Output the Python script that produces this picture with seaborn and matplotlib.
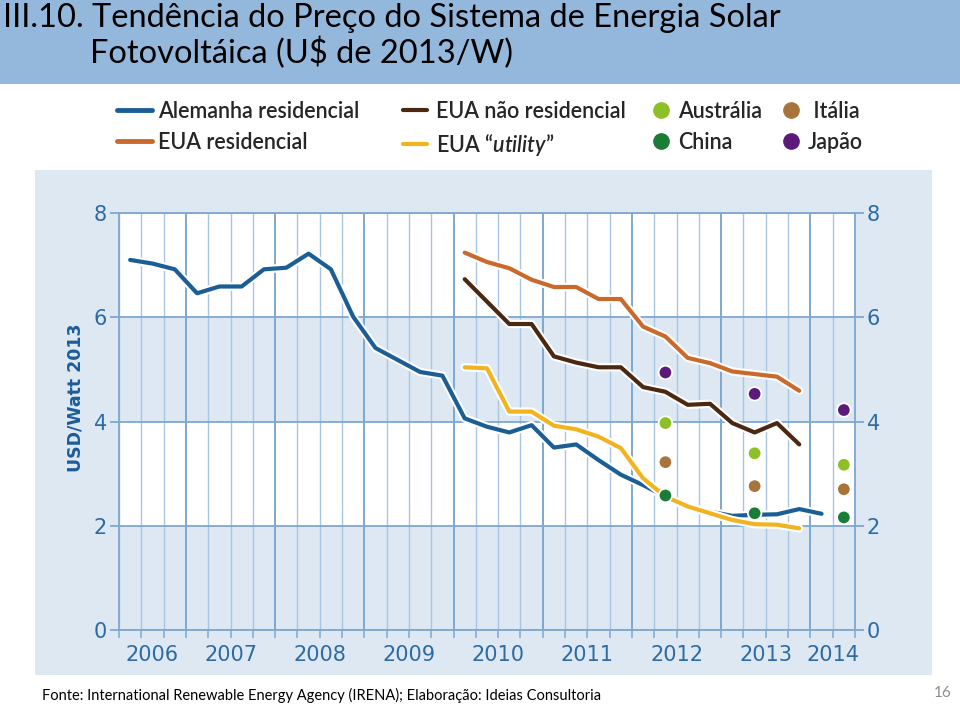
import numpy as np
import pandas as pd
import matplotlib
matplotlib.use("Agg")
import matplotlib.pyplot as plt
import seaborn as sns
import matplotlib.patheffects as pe
from matplotlib.lines import Line2D
from matplotlib.patches import Rectangle
from matplotlib.transforms import blended_transform_factory

# ---------------- data ----------------
quarters_de = pd.period_range("2006Q2", "2014Q1", freq="Q")
alemanha_residencial = [7.10, 7.03, 6.92, 6.46, 6.59, 6.59, 6.92, 6.95,
                        7.22, 6.92, 6.01, 5.41, 5.18, 4.95, 4.88, 4.06,
                        3.90, 3.79, 3.93, 3.50, 3.56, 3.26, 2.98, 2.78,
                        2.56, 2.35, 2.27, 2.19, 2.21, 2.22, 2.32, 2.23]

quarters_us = pd.period_range("2010Q1", "2013Q4", freq="Q")
eua_residencial = [7.24, 7.06, 6.94, 6.72, 6.58, 6.58, 6.35, 6.35,
                   5.82, 5.63, 5.22, 5.12, 4.96, 4.91, 4.86, 4.59]
eua_nao_residencial = [6.73, 6.30, 5.87, 5.87, 5.25, 5.13, 5.04, 5.04,
                       4.66, 4.57, 4.32, 4.34, 3.97, 3.79, 3.97, 3.56]
eua_utility = [5.04, 5.02, 4.19, 4.19, 3.92, 3.85, 3.71, 3.49,
               2.91, 2.56, 2.37, 2.24, 2.11, 2.03, 2.02, 1.95]

quarters_pts = pd.PeriodIndex(["2012Q2", "2013Q2", "2014Q2"], freq="Q")
australia = [3.97, 3.39, 3.17]
italia = [3.22, 2.76, 2.70]
china = [2.58, 2.24, 2.16]
japao = [4.94, 4.53, 4.22]

years = [2006, 2007, 2008, 2009, 2010, 2011, 2012, 2013, 2014]
y_ticks = [0, 2, 4, 6, 8]

line_names = ["Alemanha residencial", "EUA residencial",
              "EUA não residencial", "EUA utility"]
pt_names = ["Austrália", "China", "Itália", "Japão"]

colors = {
    "Alemanha residencial": "#1b5e96",
    "EUA residencial": "#c96a2c",
    "EUA não residencial": "#4b2812",
    "EUA utility": "#f2b320",
    "Austrália": "#8dbf27",
    "Itália": "#a9733c",
    "China": "#1a7d35",
    "Japão": "#5b1a7a",
}


def qx(periods):
    return [p.year + (p.quarter - 1) / 4 + 0.125 for p in periods]


df_lines = pd.concat([
    pd.DataFrame({"x": qx(quarters_de), "v": alemanha_residencial, "s": line_names[0]}),
    pd.DataFrame({"x": qx(quarters_us), "v": eua_residencial, "s": line_names[1]}),
    pd.DataFrame({"x": qx(quarters_us), "v": eua_nao_residencial, "s": line_names[2]}),
    pd.DataFrame({"x": qx(quarters_us), "v": eua_utility, "s": line_names[3]}),
], ignore_index=True)

df_pts = pd.concat([
    pd.DataFrame({"x": qx(quarters_pts), "v": japao, "s": "Japão"}),
    pd.DataFrame({"x": qx(quarters_pts), "v": australia, "s": "Austrália"}),
    pd.DataFrame({"x": qx(quarters_pts), "v": italia, "s": "Itália"}),
    pd.DataFrame({"x": qx(quarters_pts), "v": china, "s": "China"}),
], ignore_index=True)

# ---------------- style ----------------
sns.set_theme(style="white")
plt.rcParams["font.family"] = ["DejaVu Sans"]
plt.rcParams["mathtext.fontset"] = "custom"
plt.rcParams["mathtext.it"] = "Lato:italic:semibold"
plt.rcParams["mathtext.rm"] = "Lato:semibold"
CAL = ["Lato", "DejaVu Sans"]

W, H = 960, 707
fig = plt.figure(figsize=(W / 100, H / 100), dpi=100)
fig.patch.set_facecolor("white")

# title band & chart panel
fig.patches.append(Rectangle((0, 1 - 84 / H), 1, 84 / H, transform=fig.transFigure,
                             facecolor="#94b7dc", edgecolor="none", zorder=-1))
fig.patches.append(Rectangle((35 / W, 1 - 675 / H), (932 - 35) / W, (675 - 170) / H,
                             transform=fig.transFigure, facecolor="#dde8f3",
                             edgecolor="none", zorder=-1))

fig.text(3 / W, 1 - 27 / H, "III.10. Tendência do Preço do Sistema de Energia Solar",
         family=CAL, size=23.5, color="black", ha="left", va="baseline")
fig.text(90 / W, 1 - 63 / H, "Fotovoltáica (U$ de 2013/W)",
         family=CAL, size=23.5, color="black", ha="left", va="baseline")

ax = fig.add_axes([119 / W, 1 - 630 / H, (855 - 119) / W, (630 - 213) / H])
ax.set_zorder(2)
ax.set_facecolor("#dde8f3")
ax.axhspan(6, 8, color="white", zorder=0, lw=0)
ax.axhspan(2, 4, color="white", zorder=0, lw=0)

outline = [pe.withStroke(linewidth=6.0, foreground="white")]
sns.lineplot(data=df_lines, x="x", y="v", hue="s", hue_order=line_names,
             palette=colors, linewidth=3.0, legend=False, ax=ax,
             path_effects=outline, zorder=3)
sns.scatterplot(data=df_pts, x="x", y="v", hue="s", palette=colors, s=95,
                edgecolor="white", linewidth=1.3, legend=False, ax=ax, zorder=4)

gc = "#7ea8cf"
gc_minor = "#a8c5e2"
ax.set_xlim(2006.25, 2014.5)
ax.set_ylim(0, 8)
ax.set_yticks(y_ticks)
ax.set_yticklabels([str(t) for t in y_ticks])
ax.set_xticks(years[1:])
ax.set_xticks(np.arange(2006.25, 2014.51, 0.25), minor=True)
ax.set_xticklabels([])
ax.set_xlabel("")
ax.set_ylabel("")
ax.set_axisbelow(True)
ax.grid(axis="y", color=gc, lw=1.3)
ax.grid(axis="x", which="major", color=gc, lw=1.4)
ax.grid(axis="x", which="minor", color=gc_minor, lw=1.0)
for sp in ax.spines.values():
    sp.set_visible(True)
    sp.set_color(gc)
    sp.set_linewidth(1.3)
ax.tick_params(axis="y", left=True, right=True, labelleft=True, labelright=True,
               length=6.5, width=1.3, color=gc, labelsize=15, labelcolor="#2d6ba4", pad=2)
ax.tick_params(axis="x", which="both", bottom=True, length=6, width=1.1, color=gc)

tr = blended_transform_factory(ax.transData, ax.transAxes)
x0, x1 = ax.get_xlim()
for y in years:
    c = (max(y, x0) + min(y + 1, x1)) / 2
    ax.text(c, -0.06, str(y), transform=tr, ha="center", va="center",
            size=15, color="#2d6ba4")

fig.text(75 / W, 1 - 398 / H, "USD/Watt 2013", rotation=90, ha="center", va="center",
         weight="bold", size=12.5, color="#1b5c99")

# ---------------- legends ----------------
LF = 15.5
LPROP = {"family": CAL, "size": LF, "weight": "semibold"}
def line_handle(name, lw=3.5):
    return Line2D([], [], color=colors[name], lw=lw)

def dot_handle(name):
    return Line2D([], [], color=colors[name], lw=0, marker="o", markersize=11)

common = dict(loc="upper left", frameon=False, prop=LPROP, borderpad=0,
              borderaxespad=0, labelspacing=0.45)
fig.legend([line_handle(line_names[0]), line_handle(line_names[1])],
           line_names[:2], bbox_to_anchor=(117 / W, 1 - 101 / H),
           handlelength=1.63, handletextpad=0.28, **common)
fig.legend([line_handle(line_names[2], 3), line_handle(line_names[3], 3)],
           [line_names[2], "EUA $\\mathit{\u201cutility\u201d}$"],
           bbox_to_anchor=(403 / W, 1 - 101 / H),
           handlelength=1.12, handletextpad=0.42, **common)
fig.legend([dot_handle("Austrália"), dot_handle("China")],
           ["Austrália", "China"], bbox_to_anchor=(652 / W, 1 - 101 / H),
           handlelength=0.8, handletextpad=0.4, **common)
fig.legend([dot_handle("Itália"), dot_handle("Japão")],
           [" Itália", "Japão"], bbox_to_anchor=(782 / W, 1 - 101 / H),
           handlelength=0.8, handletextpad=0.4, **common)

fig.text(42 / W, 1 - 695 / H,
         "Fonte: International Renewable Energy Agency (IRENA); Elaboração: Ideias Consultoria",
         family=CAL, size=10.5, color="black", ha="left", va="center")
fig.text(952 / W, 1 - 693 / H, "16", family=CAL, size=11, color="#8c8c8c",
         ha="right", va="center")

fig.savefig("out.png", dpi=100)
